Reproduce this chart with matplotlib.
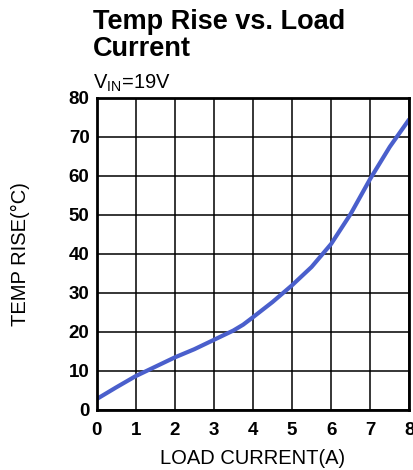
import numpy as np
from matplotlib import pyplot as plt

plt.rcParams['font.family'] = ['Liberation Sans', 'DejaVu Sans']
plt.rcParams['mathtext.fontset'] = 'custom'
plt.rcParams['mathtext.rm'] = 'Liberation Sans'

# load current (A) vs temperature rise (C)
current = [0.0, 0.5, 1.0, 1.5, 2.0, 2.5, 3.0, 3.5, 3.75, 4.0, 4.5, 5.0, 5.5, 6.0, 6.5, 7.0, 7.5, 8.0]
temp_rise = [2.7, 5.7, 8.6, 11.0, 13.4, 15.5, 17.9, 20.3, 21.8, 23.7, 27.6, 31.9, 36.6, 42.5, 50.2, 59.2, 67.4, 74.5]

x_ticks = [0, 1, 2, 3, 4, 5, 6, 7, 8]
y_ticks = [0, 10, 20, 30, 40, 50, 60, 70, 80]

fig = plt.figure(figsize=(4.14, 4.70), dpi=100)
ax = fig.add_axes([0.2331, 0.1283, 0.7556, 0.6638])

ax.plot(current, temp_rise, color='#4a5fcc', linewidth=3, solid_capstyle='butt',
        solid_joinstyle='round')

ax.set_xlim(0, 8)
ax.set_ylim(0, 80)
ax.set_xticks(x_ticks)
ax.set_yticks(y_ticks)
ax.grid(True, color='black', linewidth=1.1)
ax.tick_params(length=0, labelsize=13.5)
ax.tick_params(axis='x', pad=9)
ax.tick_params(axis='y', pad=5)
for lab in ax.get_xticklabels() + ax.get_yticklabels():
    lab.set_fontweight('bold')
for sp in ax.spines.values():
    sp.set_linewidth(2)

ax.set_xlabel('LOAD CURRENT(A)', fontsize=14.5, labelpad=7)
ax.set_ylabel('TEMP RISE(°C)', fontsize=14.5, labelpad=28)

fig.text(0.225, 0.980, 'Temp Rise vs. Load\nCurrent', fontsize=19.5, fontweight='bold',
         va='top', ha='left', linespacing=1.05)
fig.text(0.225, 0.800, r'V$_{\mathrm{IN}}$=19V', fontsize=14.5, va='bottom', ha='left')

fig.savefig('out.png', dpi=100)
